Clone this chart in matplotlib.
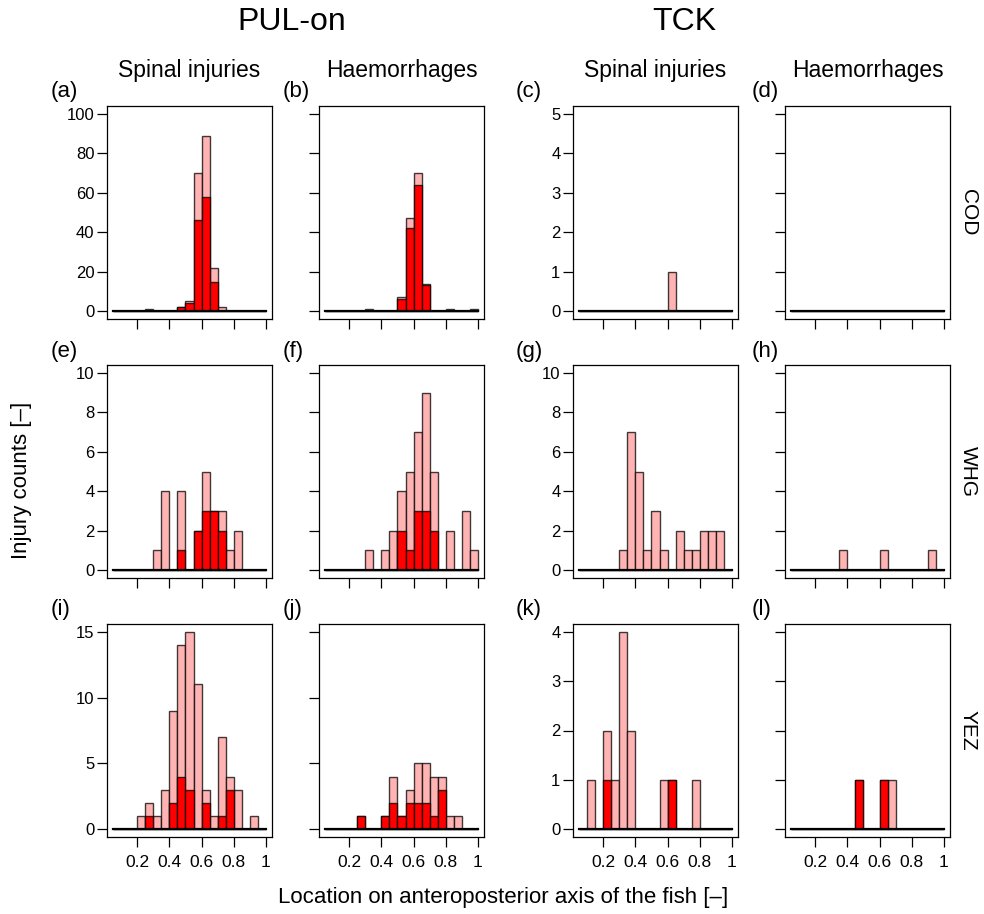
import numpy as np
import matplotlib.pyplot as plt

plt.rcParams['font.family'] = ['Liberation Sans', 'DejaVu Sans']

# bins of width 0.05 from 0.05 to 1.0
edges = np.round(np.arange(0.05, 1.0001, 0.05), 2)

# total counts (light) and subset counts (dark red), 19 bins each
cod_pul_spinal_all = [0, 0, 0, 0, 1, 0, 0, 0, 2, 5, 70, 89, 22, 2, 0, 0, 0, 0, 0]
cod_pul_spinal_red = [0, 0, 0, 0, 0, 0, 0, 0, 2, 4, 46, 58, 15, 0, 0, 0, 0, 0, 0]
cod_pul_haem_all = [0, 0, 0, 0, 0, 1, 0, 0, 0, 7, 47, 70, 14, 0, 0, 1, 0, 0, 1]
cod_pul_haem_red = [0, 0, 0, 0, 0, 0, 0, 0, 0, 6, 42, 64, 13, 0, 0, 0, 0, 0, 0]
cod_tck_spinal_all = [0, 0, 0, 0, 0, 0, 0, 0, 0, 0, 0, 1, 0, 0, 0, 0, 0, 0, 0]
cod_tck_spinal_red = [0] * 19
cod_tck_haem_all = [0] * 19
cod_tck_haem_red = [0] * 19

whg_pul_spinal_all = [0, 0, 0, 0, 0, 1, 4, 0, 4, 0, 2, 5, 3, 3, 1, 2, 0, 0, 0]
whg_pul_spinal_red = [0, 0, 0, 0, 0, 0, 0, 0, 1, 0, 2, 3, 3, 2, 0, 0, 0, 0, 0]
whg_pul_haem_all = [0, 0, 0, 0, 0, 1, 0, 1, 2, 4, 5, 7, 9, 5, 0, 2, 0, 3, 1]
whg_pul_haem_red = [0, 0, 0, 0, 0, 0, 0, 0, 0, 2, 1, 3, 3, 2, 0, 0, 0, 0, 0]
whg_tck_spinal_all = [0, 0, 0, 0, 0, 1, 7, 5, 1, 3, 1, 0, 2, 1, 1, 2, 2, 2, 0]
whg_tck_spinal_red = [0] * 19
whg_tck_haem_all = [0, 0, 0, 0, 0, 0, 1, 0, 0, 0, 0, 1, 0, 0, 0, 0, 0, 1, 0]
whg_tck_haem_red = [0] * 19

yez_pul_spinal_all = [0, 0, 0, 1, 2, 1, 3, 9, 14, 15, 11, 3, 1, 7, 4, 3, 0, 1, 0]
yez_pul_spinal_red = [0, 0, 0, 0, 1, 0, 0, 2, 4, 3, 0, 2, 0, 1, 3, 0, 0, 0, 0]
yez_pul_haem_all = [0, 0, 0, 0, 1, 0, 0, 1, 4, 1, 3, 5, 5, 4, 4, 1, 1, 0, 0]
yez_pul_haem_red = [0, 0, 0, 0, 1, 0, 0, 1, 2, 1, 2, 2, 2, 1, 3, 0, 0, 0, 0]
yez_tck_spinal_all = [0, 1, 0, 2, 1, 4, 2, 0, 0, 0, 1, 1, 0, 0, 1, 0, 0, 0, 0]
yez_tck_spinal_red = [0, 0, 0, 1, 0, 0, 0, 0, 0, 0, 0, 1, 0, 0, 0, 0, 0, 0, 0]
yez_tck_haem_all = [0, 0, 0, 0, 0, 0, 0, 0, 1, 0, 0, 1, 1, 0, 0, 0, 0, 0, 0]
yez_tck_haem_red = [0, 0, 0, 0, 0, 0, 0, 0, 1, 0, 0, 1, 0, 0, 0, 0, 0, 0, 0]

panels = [
    [(cod_pul_spinal_all, cod_pul_spinal_red), (cod_pul_haem_all, cod_pul_haem_red),
     (cod_tck_spinal_all, cod_tck_spinal_red), (cod_tck_haem_all, cod_tck_haem_red)],
    [(whg_pul_spinal_all, whg_pul_spinal_red), (whg_pul_haem_all, whg_pul_haem_red),
     (whg_tck_spinal_all, whg_tck_spinal_red), (whg_tck_haem_all, whg_tck_haem_red)],
    [(yez_pul_spinal_all, yez_pul_spinal_red), (yez_pul_haem_all, yez_pul_haem_red),
     (yez_tck_spinal_all, yez_tck_spinal_red), (yez_tck_haem_all, yez_tck_haem_red)],
]
ymax = [[100, 100, 5, 5], [10, 10, 10, 10], [15, 15, 4, 4]]
yticks = [[np.arange(0, 101, 20)] * 2 + [np.arange(0, 6, 1)] * 2,
          [np.arange(0, 11, 2)] * 4,
          [np.arange(0, 16, 5)] * 2 + [np.arange(0, 5, 1)] * 2]
species = ["COD", "WHG", "YEZ"]
col_titles = ["Spinal injuries", "Haemorrhages", "Spinal injuries", "Haemorrhages"]
letters = "abcdefghijkl"

W, H = 984, 914
fig = plt.figure(figsize=(W / 100, H / 100), dpi=100)

col_x = [107, 319, 573, 785]
letter_x = [51, 283, 516, 752]
row_y = [106, 365, 624]
aw, ah = 165, 213

light = "#ffb3b3"
dark = "#ff0000"
edge = (0, 0, 0, 0.75)

for r in range(3):
    for c in range(4):
        ax = fig.add_axes([col_x[c] / W, 1 - (row_y[r] + ah) / H, aw / W, ah / H])
        tot, red = panels[r][c]
        widths = np.diff(edges)
        ax.bar(edges[:-1], tot, width=widths, align="edge", color=light,
               edgecolor=edge, linewidth=1.0)
        ax.bar(edges[:-1], red, width=widths, align="edge", color=dark,
               edgecolor=edge, linewidth=1.0)
        ax.plot([0.05, 1.0], [0, 0], color="black", lw=1.6)
        span = 0.95 * 0.04
        ax.set_xlim(0.05 - span, 1.0 + span)
        ym = ymax[r][c]
        ax.set_ylim(-0.04 * ym, ym * 1.04)
        ax.set_xticks([0.2, 0.4, 0.6, 0.8, 1.0])
        ax.set_yticks(yticks[r][c])
        ax.tick_params(direction="out", length=7, width=0.9, labelsize=12, pad=2)
        if r == 2:
            ax.set_xticklabels(["0.2", "0.4", "0.6", "0.8", "1"])
            ax.tick_params(axis="x", pad=6, labelsize=12.5)
        else:
            ax.set_xticklabels([])
        if c % 2 == 1:
            ax.set_yticklabels([])
        for s in ax.spines.values():
            s.set_linewidth(0.9)
        fig.text(letter_x[c] / W, 1 - (row_y[r] - 14) / H, "(%s)" % letters[r * 4 + c],
                 fontsize=16, ha="left", va="center")
        if r == 0:
            fig.text((col_x[c] + aw / 2) / W, 1 - 70 / H, col_titles[c],
                     fontsize=16.5, ha="center", va="center")
        if c == 3:
            fig.text(968 / W, 1 - (row_y[r] + ah / 2) / H, species[r], fontsize=15,
                     rotation=-90, ha="center", va="center")

fig.text(0.297, 1 - 22 / H, "PUL-on", fontsize=23, ha="center", va="center")
fig.text(0.695, 1 - 22 / H, "TCK", fontsize=23, ha="center", va="center")
fig.text(22 / W, 1 - 480 / H, "Injury counts [\u2013]", fontsize=16, rotation=90,
         ha="center", va="center")
fig.text(503 / W, 1 - 898 / H, "Location on anteroposterior axis of the fish [\u2013]",
         fontsize=16, ha="center", va="center")

fig.savefig("out.png", dpi=100)
